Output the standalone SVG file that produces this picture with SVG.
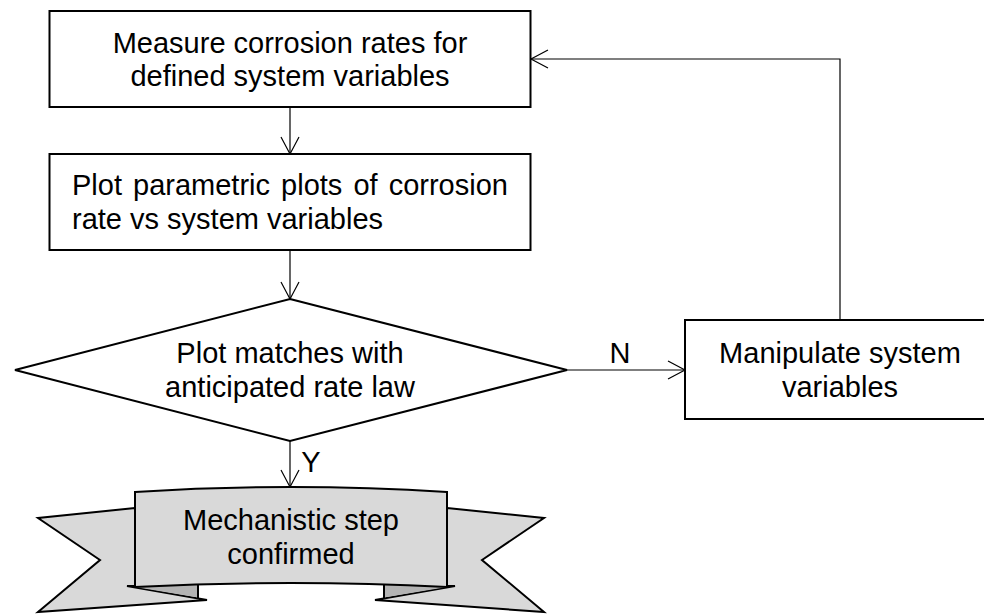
<svg xmlns="http://www.w3.org/2000/svg" width="984" height="614" viewBox="0 0 984 614">
  <style>
    .box { fill: #ffffff; stroke: #000000; stroke-width: 2; }
    .lbl { font-family: "Liberation Sans", Arial, sans-serif; font-size: 29px; fill: #000000; }
    .mid { text-anchor: middle; }
    .conn { fill: none; stroke: #000000; stroke-width: 1.2; }
    .ribbon { fill: #d9d9d9; stroke: #000000; stroke-width: 2; stroke-linejoin: miter; }
    .fold { fill: #b3b3b3; stroke: none; }
    .edge { fill: none; stroke: #000000; stroke-width: 2; }
  </style>
  <defs>
    <marker id="open-arrow" viewBox="0 0 20 20" refX="18" refY="10" markerWidth="20" markerHeight="20" markerUnits="userSpaceOnUse" orient="auto">
      <path d="M1,1 L18,10 L1,19" fill="none" stroke="#000000" stroke-width="1.2"/>
    </marker>
  </defs>

  <rect width="984" height="614" fill="#ffffff"/>

  <!-- connectors -->
  <g id="connectors">
    <line class="conn" x1="290" y1="107" x2="290" y2="154" marker-end="url(#open-arrow)"/>
    <line class="conn" x1="290" y1="250" x2="290" y2="299" marker-end="url(#open-arrow)"/>
    <line class="conn" x1="290" y1="441" x2="290" y2="487" marker-end="url(#open-arrow)"/>
    <line class="conn" x1="567" y1="370" x2="685" y2="370" marker-end="url(#open-arrow)"/>
    <polyline class="conn" points="840,320 840,59 531,59" marker-end="url(#open-arrow)"/>
    <text class="lbl mid" x="620" y="363">N</text>
    <text class="lbl mid" x="311" y="472">Y</text>
  </g>

  <!-- measure step -->
  <g id="measure">
    <rect class="box" x="49.5" y="11" width="481" height="96"/>
    <text class="lbl mid" x="290" y="53">Measure corrosion rates for</text>
    <text class="lbl mid" x="290" y="86">defined system variables</text>
  </g>

  <!-- plotting step -->
  <g id="plot">
    <rect class="box" x="49.5" y="154" width="481" height="96"/>
    <text class="lbl" x="72" y="195" word-spacing="3">Plot parametric plots of corrosion</text>
    <text class="lbl" x="72" y="229">rate vs system variables</text>
  </g>

  <!-- decision -->
  <g id="decision">
    <polygon class="box" points="290,299 567,370 290,441 15,370"/>
    <text class="lbl mid" x="290" y="363">Plot matches with</text>
    <text class="lbl mid" x="290" y="397">anticipated rate law</text>
  </g>

  <!-- manipulate step -->
  <g id="manipulate">
    <rect class="box" x="685" y="320" width="310" height="99"/>
    <text class="lbl mid" x="840" y="363">Manipulate system</text>
    <text class="lbl mid" x="840" y="397">variables</text>
  </g>

  <!-- result ribbon -->
  <g id="result">
    <!-- tails -->
    <path class="ribbon" d="M135,508 L38,518 L100,560 L38,612 L207,600 L127,586 L135,586 Z"/>
    <path class="ribbon" d="M447,508 L544,518 L482,560 L544,612 L375,600 L455,586 L447,586 Z"/>
    <!-- folds -->
    <polygon class="fold" points="135,587 198,584 198,597.5"/>
    <polygon class="fold" points="447,587 384,584 384,597.5"/>
    <line class="edge" x1="198" y1="584" x2="198" y2="598"/>
    <line class="edge" x1="384" y1="584" x2="384" y2="598"/>
    <!-- front panel -->
    <path class="ribbon" d="M135,492 Q291,482 447,492 L447,587 Q291,579 135,587 Z"/>
    <text class="lbl mid" x="291" y="530">Mechanistic step</text>
    <text class="lbl mid" x="291" y="564">confirmed</text>
  </g>
</svg>
